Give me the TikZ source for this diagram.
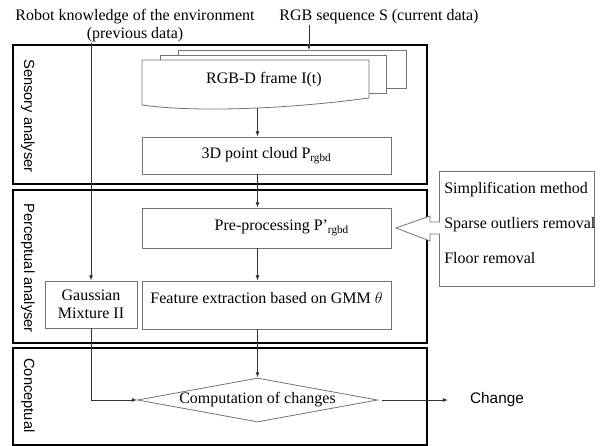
\documentclass[tikz,border=0pt]{standalone}
\usepackage{fontspec}
\setmainfont{Liberation Serif}
\setsansfont{Liberation Sans}
\usetikzlibrary{shapes.geometric, arrows.meta, positioning}
\tikzset{>={Latex[length=4bp,width=3bp]}}

\begin{document}
\begin{tikzpicture}[x=0.75bp, y=-0.75bp,
  region/.style={draw=black, line width=1.5bp},
  procbox/.style={draw=black!55, line width=0.6bp, fill=white, inner sep=2bp,
    font=\fontsize{12bp}{13.5bp}\selectfont},
  sidelabel/.style={font=\sffamily\fontsize{11bp}{13bp}\selectfont, rotate=-90,
    anchor=west, inner sep=0pt},
  plain/.style={font=\fontsize{12bp}{13.5bp}\selectfont, inner sep=0pt},
  flow/.style={->, draw=black!80, line width=0.6bp}]

\useasboundingbox (0,0) rectangle (600,446);

% Input labels
\node[plain, align=center] (robot) at (135,26) {Robot knowledge of the environment\\(previous data)};
\node[plain] (rgbseq) at (379,17) {RGB sequence S (current data)};

% Analyser regions
\draw[region] (13,45) rectangle (427,184);
\draw[region] (13,190) rectangle (427,343);
\draw[region] (13,348) rectangle (427,445);
\node[sidelabel] (senslbl) at (28,59) {Sensory analyser};
\node[sidelabel] (perclbl) at (28,203) {Perceptual analyser};
\node[sidelabel] (conclbl) at (28,358) {Conceptual};

% Stack of RGB-D frames
\draw[procbox] (178,50) rectangle (406,88);
\draw[procbox] (160,55) rectangle (386,93);
\draw[procbox] (142,60) -- (369,60) -- (369,98) .. controls (280,110) and (190,112) .. (142,105) -- cycle;
\node[plain] (frame) at (264,80) {RGB-D frame I(t)};
\coordinate (stacktop) at (309,50);
\coordinate (framebot) at (257.5,108);

% Processing steps
\node[procbox, minimum width=186.75bp, minimum height=27.75bp] (cloud) at (266.5,155.5) {3D point cloud P\textsubscript{rgbd}};
\node[procbox, minimum width=186.75bp, minimum height=30bp] (pre) at (266.5,228) {\hspace*{23bp}Pre-processing P’\textsubscript{rgbd}};
\node[procbox, minimum width=186.75bp, minimum height=36bp, align=center] (feat) at (266.5,305) {Feature extraction based on GMM $\theta$\\[-3bp]\mbox{}};
\node[procbox, minimum width=69bp, minimum height=35.25bp, align=center] (gauss) at (91,304.5) {Gaussian\\Mixture II};

% Comparison
\node[diamond, draw=black!55, line width=0.6bp, aspect=5.45, inner sep=0pt,
  minimum width=180bp, minimum height=33bp, plain] (calc) at (257.5,400) {Computation of changes};
\node[font=\sffamily\fontsize{11.5bp}{13bp}\selectfont] (change) at (497,400) {Change};

% Pre-processing methods
\node[procbox, minimum width=116.25bp, minimum height=86.25bp] (methods) at (516.5,228.5) {};
\node[plain, align=left, anchor=west, font=\fontsize{12bp}{26.25bp}\selectfont] (steps) at (444,223) {Simplification method\\Sparse outliers removal\\Floor removal};
\path[draw=black!55, line width=0.6bp, fill=white] (440,222) -- (430,222) -- (430,216) -- (396,228) -- (430,241) -- (430,234) -- (440,234);

% Flow
\draw[flow] (rgbseq.south -| stacktop) -- (stacktop);
\draw[flow] (framebot) -- (cloud.north -| framebot);
\draw[flow] (cloud.south -| framebot) -- (pre.north -| framebot);
\draw[flow] (pre.south -| framebot) -- (feat.north -| framebot);
\draw[flow] (feat.south -| framebot) -- (calc.north);
\draw[flow] (robot.south -| gauss.north) -- (gauss.north);
\draw[flow] (gauss.south) |- (calc.west);
\draw[flow, shorten <=3bp, shorten >=13bp] (calc.east) -- (change.west);

\end{tikzpicture}
\end{document}
